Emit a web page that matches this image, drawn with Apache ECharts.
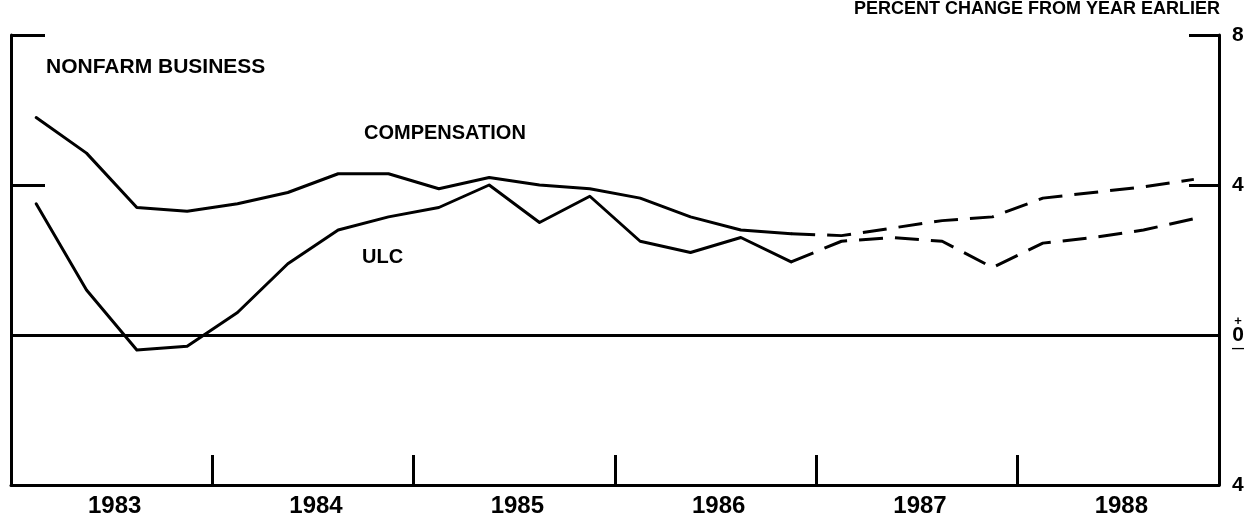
<!DOCTYPE html>
<html>
<head>
<meta charset="utf-8">
<script src="https://cdn.jsdelivr.net/npm/echarts@6/dist/echarts.min.js"></script>
<style>
html,body{margin:0;padding:0;background:#fff;}
#chart{width:1247px;height:521px;}
</style>
</head>
<body>
<div id="chart"></div>
<script>
// Quarterly observations, 1983Q1 .. 1988Q4 (index 0..23)
var years = ['1983', '1984', '1985', '1986', '1987', '1988'];
// Compensation, actual (solid) 1983Q1..1986Q4
var compActual = [5.8, 4.85, 3.4, 3.3, 3.5, 3.8, 4.3, 4.3, 3.9, 4.2, 4.0, 3.9, 3.65, 3.15, 2.8, 2.7];
// Compensation, projected (dashed) 1986Q4..1988Q4
var compProj = [2.7, 2.65, 2.85, 3.05, 3.15, 3.65, 3.8, 3.95, 4.15];
// Unit labor costs, actual (solid)
var ulcActual = [3.5, 1.2, -0.4, -0.3, 0.6, 1.9, 2.8, 3.15, 3.4, 4.0, 3.0, 3.7, 2.5, 2.2, 2.6, 1.95];
// Unit labor costs, projected (dashed)
var ulcProj = [1.95, 2.5, 2.6, 2.5, 1.8, 2.45, 2.6, 2.8, 3.1];
var yTicks = [8, 4, 0, -4];

function toPoints(vals, startIdx) {
  return vals.map(function (v, i) { return [startIdx + i + 0.5, v]; });
}
var projStart = compActual.length - 1;

var FONT = '"Liberation Sans", Arial, sans-serif';
var chart = echarts.init(document.getElementById('chart'));
var solid = { color: '#000', width: 3, type: 'solid', join: 'round', cap: 'round' };
var dashed = { color: '#000', width: 3, type: [24, 12] };

chart.setOption({
  animation: false,
  backgroundColor: '#fff',
  grid: { left: 11, right: 28, top: 35, bottom: 36 },
  xAxis: {
    type: 'value', min: 0, max: years.length * 4,
    axisLine: { show: true, onZero: false, lineStyle: { color: '#000', width: 3 } },
    axisTick: { show: true, inside: true, length: 30, lineStyle: { color: '#000', width: 3 },
      customValues: [4, 8, 12, 16, 20] },
    axisLabel: { show: true, customValues: [2, 6, 10, 14, 18, 22],
      formatter: function (v) { return years[Math.round((v - 2) / 4)]; },
      color: '#000', fontFamily: FONT, fontWeight: 'bold', fontSize: 24, margin: 9,
      padding: [0, 0, 0, 6] },
    splitLine: { show: false }
  },
  yAxis: [
    {
      type: 'value', min: -4, max: 8, interval: 4, position: 'right',
      axisLine: { show: true, onZero: false, lineStyle: { color: '#000', width: 3 } },
      axisTick: { show: true, inside: true, length: 30, customValues: [8, 4], lineStyle: { color: '#000', width: 3 } },
      axisLabel: {
        customValues: yTicks, margin: 13, color: '#000', fontFamily: FONT, fontWeight: 'bold', fontSize: 21,
        formatter: function (v) { return v === 0 ? '{p|+}\n{z|0}\n{m|—}' : String(Math.abs(v)); },
        rich: {
          p: { fontSize: 13, fontWeight: 'bold', lineHeight: 9, fontFamily: FONT, color: '#000', align: 'center' },
          z: { fontSize: 21, fontWeight: 'bold', lineHeight: 18, fontFamily: FONT, color: '#000', align: 'center' },
          m: { fontSize: 12, fontWeight: 'bold', lineHeight: 9, fontFamily: FONT, color: '#000', align: 'center' }
        }
      },
      splitLine: { show: false }
    },
    {
      type: 'value', min: -4, max: 8, interval: 4, position: 'left',
      axisLine: { show: true, onZero: false, lineStyle: { color: '#000', width: 3 } },
      axisTick: { show: true, inside: true, length: 34, customValues: [8, 4], lineStyle: { color: '#000', width: 3 } },
      axisLabel: { show: false },
      splitLine: { show: false }
    }
  ],
  series: [
    { name: 'Compensation', type: 'line', data: toPoints(compActual, 0), showSymbol: false, lineStyle: solid,
      markLine: { silent: true, symbol: ['none', 'none'], label: { show: false },
        lineStyle: { color: '#000', width: 3, type: 'solid' }, data: [{ yAxis: 0 }] } },
    { name: 'Compensation proj', type: 'line', data: toPoints(compProj, projStart), showSymbol: false, lineStyle: dashed },
    { name: 'ULC', type: 'line', data: toPoints(ulcActual, 0), showSymbol: false, lineStyle: solid },
    { name: 'ULC proj', type: 'line', data: toPoints(ulcProj, projStart), showSymbol: false, lineStyle: dashed }
  ],
  graphic: [
    { type: 'text', left: 46, top: 57, style: { text: 'NONFARM BUSINESS', fill: '#000', font: 'bold 21px ' + FONT } },
    { type: 'text', left: 364, top: 123, style: { text: 'COMPENSATION', fill: '#000', font: 'bold 20px ' + FONT } },
    { type: 'text', left: 362, top: 247, style: { text: 'ULC', fill: '#000', font: 'bold 20px ' + FONT } },
    { type: 'text', right: 27, top: 0, style: { text: 'PERCENT CHANGE FROM YEAR EARLIER', fill: '#000', font: 'bold 18px ' + FONT } }
  ]
});
</script>
</body>
</html>
